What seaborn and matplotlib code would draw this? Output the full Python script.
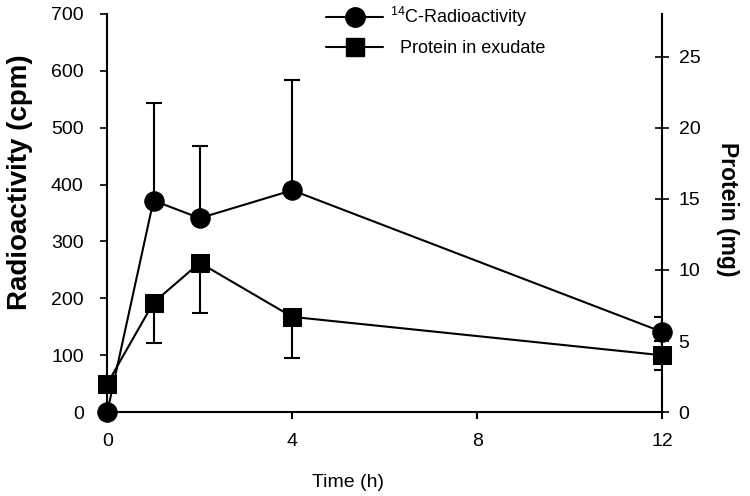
import matplotlib
matplotlib.use("Agg")
import matplotlib.pyplot as plt
import seaborn as sns
import numpy as np
import pandas as pd
from matplotlib.lines import Line2D

# data
time_h = [0, 1, 2, 4, 12]
radio_cpm = [0, 372, 341, 390, 141]
radio_err_up = [0, 172, 127, 194, 26]
protein_mg = [2.0, 7.7, 10.5, 6.7, 4.0]
protein_err_dn = [0, 2.85, 3.5, 2.9, 1.0]
protein_err_up = [0, 0, 0, 0, 1.0]

df = pd.DataFrame({"time": time_h, "radio": radio_cpm, "protein": protein_mg})

sns.set_style("ticks")
plt.rcParams['font.family'] = ['Liberation Sans', 'DejaVu Sans']
plt.rcParams['mathtext.default'] = 'regular'
plt.rcParams['text.color'] = 'black'
plt.rcParams['axes.labelcolor'] = 'black'
plt.rcParams['xtick.color'] = 'black'
plt.rcParams['ytick.color'] = 'black'
plt.rcParams['axes.edgecolor'] = 'black'

fig = plt.figure(figsize=(7.5, 4.96), dpi=100)
ax = fig.add_axes([0.143, 0.169, 0.74, 0.803])
ax2 = ax.twinx()

# radioactivity (left axis)
ax.errorbar(time_h, radio_cpm, yerr=[np.zeros(5), radio_err_up], fmt='none',
            ecolor='black', elinewidth=1.5, capsize=5.5, capthick=1.5, zorder=2)
sns.lineplot(data=df, x="time", y="radio", ax=ax, color='black', lw=1.5,
             marker='o', markersize=14, markeredgecolor='black', zorder=3,
             clip_on=False)

# protein (right axis)
ax2.errorbar(time_h, protein_mg, yerr=[protein_err_dn, protein_err_up], fmt='none',
             ecolor='black', elinewidth=1.5, capsize=5.5, capthick=1.5, zorder=2)
sns.lineplot(data=df, x="time", y="protein", ax=ax2, color='black', lw=1.5,
             marker='s', markersize=13, markeredgecolor='black', zorder=3,
             clip_on=False)

ax.set_xlim(0, 12)
ax.set_ylim(0, 700)
ax2.set_ylim(0, 28)
ax.set_xticks([0, 4, 8, 12])
ax.set_yticks(range(0, 701, 100))
ax2.set_yticks(range(0, 26, 5))

for a in (ax, ax2):
    a.spines['top'].set_visible(False)
    for s in a.spines.values():
        s.set_linewidth(1.5)
ax.spines['right'].set_visible(False)
ax2.spines['left'].set_visible(False)
ax2.spines['bottom'].set_visible(False)

ax.tick_params(axis='x', direction='out', length=5, width=1.5, labelsize=14, pad=10)
ax.tick_params(axis='y', direction='out', length=5, width=1.2, labelsize=14, pad=12)
ax2.tick_params(axis='y', direction='inout', length=9.5, width=1.2, labelsize=14, pad=7)

ax.set_xlabel("Time (h)", fontsize=14)
ax.xaxis.set_label_coords(0.434, -0.156)
ax.set_ylabel("Radioactivity (cpm)", fontsize=20, fontweight='bold')
ax.yaxis.set_label_coords(-0.133, 0.578)
ax2.set_ylabel("Protein (mg)", fontsize=16.5, fontweight='bold', rotation=270,
               va='center')
ax2.yaxis.set_label_coords(1.117, 0.51)

handles = [
    Line2D([], [], color='black', lw=1.5, marker='o', markersize=14),
    Line2D([], [], color='black', lw=1.5, marker='s', markersize=13),
]
labels = ["$^{14}$C-Radioactivity", "  Protein in exudate"]
fig.legend(handles, labels, loc='upper left', bbox_to_anchor=(0.435, 0.99),
           frameon=False, fontsize=13, handlelength=3.15, labelspacing=0.6,
           handletextpad=0.4, borderpad=0, borderaxespad=0)

fig.savefig("out.png", dpi=100)
